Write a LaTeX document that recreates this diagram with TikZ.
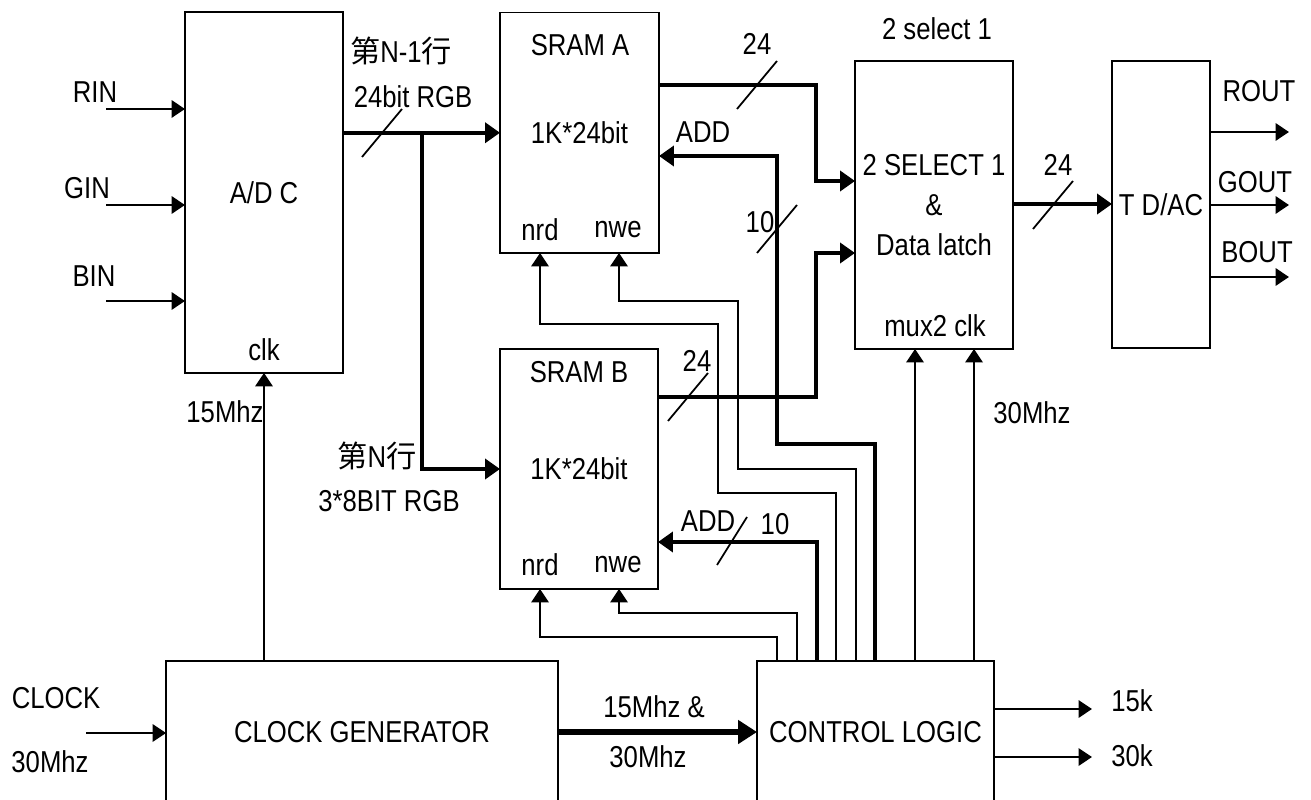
\documentclass[tikz,border=0pt]{standalone}
\usepackage{fontspec}
\setmainfont{Liberation Sans}[FakeStretch=0.85]
\newfontfamily\cjk{Noto Sans CJK SC}
\usetikzlibrary{arrows.meta,positioning}
\newcommand{\lblfont}{\fontsize{17.2}{22.8}\selectfont}
\tikzset{
  blk/.style={draw, line width=1.1pt, inner sep=0pt, outer sep=0pt},
  wire/.style={line width=1.1pt},
  arr/.style={wire, -{Triangle[length=0.27cm,width=0.35cm]}},
  bus/.style={line width=2.3pt},
  busarr/.style={bus, -{Triangle[length=0.3cm,width=0.4cm]}},
  clkarr/.style={line width=3.4pt, -{Triangle[length=0.38cm,width=0.46cm]}},
  slash/.style={line width=1pt}
}

\begin{document}
\begin{tikzpicture}[x=0.02cm,y=-0.02cm,font=\lblfont,every node/.style={inner sep=0pt}]
  \useasboundingbox (0,0) rectangle (1311,800);
  \clip (0,0) rectangle (1311,800);

  % blocks
  \node[blk, minimum width=3.16cm, minimum height=7.22cm] (adc) at (264,192.5) {A/D C};
  \node[blk, minimum width=3.18cm, minimum height=4.81cm] (srama) at (579.5,132.75) {1K*24bit};
  \node[blk, minimum width=3.16cm, minimum height=4.8cm] (sramb) at (579,469) {1K*24bit};
  \node[blk, minimum width=3.16cm, minimum height=5.76cm, align=center] (mux) at (934,205) {2 SELECT 1\\\&\\Data latch};
  \node[blk, minimum width=1.96cm, minimum height=5.74cm] (dac) at (1161,204.5) {T D/AC};
  \node[blk, minimum width=7.84cm, minimum height=2.84cm] (clkgen) at (362,732) {CLOCK GENERATOR};
  \node[blk, minimum width=4.74cm, minimum height=2.84cm] (ctrl) at (875.5,732) {CONTROL LOGIC};

  % labels inside the blocks
  \node (adcclk) at (264,350) {clk};
  \node (sramaT) at (580,45) {SRAM A};
  \node (nrdA) at (540,230) {nrd};
  \node (nweA) at (618,230) {nwe};
  \node (srambT) at (579,372) {SRAM B};
  \node (nrdB) at (540,565) {nrd};
  \node (nweB) at (618,565) {nwe};
  \node (muxclk) at (935,326) {mux2 clk};
  \node (muxT) at (937,29) {2 select 1};

  % analog inputs
  \node (rinT) at (95,92) {RIN};
  \node (ginT) at (87,188) {GIN};
  \node (binT) at (94,276) {BIN};
  \coordinate (rin) at (106,109);
  \coordinate (gin) at (106,205);
  \coordinate (bin) at (106,301);
  \foreach \c in {rin,gin,bin}
    \draw[arr] (\c) -- (\c -| adc.west);

  % A/D C to the two line memories
  \node (lineA) at (401,51) {{\cjk 第}N-1{\cjk 行}};
  \node (rgbA) at (413,97) {24bit RGB};
  \node (lineB) at (377,456) {{\cjk 第}N{\cjk 行}};
  \node (rgbB) at (389,501) {3*8BIT RGB};
  \coordinate (split) at (422,133);
  \draw[busarr] (adc.east |- srama.west) -- (srama.west);
  \draw[busarr] (split) |- (sramb.west);

  % memories to 2 select 1
  \draw[busarr] (srama.east |- 0,85) -| (816,181) -- (mux.west |- 0,181);
  \draw[busarr] (sramb.east |- 0,397) -| (816,253) -- (mux.west |- 0,253);
  \draw[busarr] (mux.east |- 0,204) -- (dac.west |- 0,204);
  \node (busA) at (757,44) {24};
  \node (busB) at (697,361) {24};
  \node (busC) at (1058,165) {24};

  % addresses
  \draw[busarr] (ctrl.north -| 875,0) |- (777,444) |- (srama.east |- 0,156);
  \draw[busarr] (ctrl.north -| 817,0) |- (sramb.east |- 0,542);
  \node (addA) at (703,132) {ADD};
  \node (wA) at (760,222) {10};
  \node (addB) at (708,521) {ADD};
  \node (wB) at (775,524) {10};

  % read / write strobes
  \draw[arr] (ctrl.north -| 836,0) |- (718,493) |- (540,324) -- (srama.south -| 540,0);
  \draw[arr] (ctrl.north -| 856,0) |- (738,469) |- (619,301) -- (srama.south -| 619,0);
  \draw[arr] (ctrl.north -| 777,0) |- (540,637) -- (sramb.south -| 540,0);
  \draw[arr] (ctrl.north -| 797,0) |- (619,613) -- (sramb.south -| 619,0);
  \draw[arr] (ctrl.north -| 915,0) -- (mux.south -| 915,0);
  \draw[arr] (ctrl.north -| 974,0) -- (mux.south -| 974,0);
  \node (f30) at (1032,413) {30Mhz};

  % bus width marks
  \foreach \x/\y/\d in {382/133/20, 757/85/20, 777/229/20, 688/397/20, 1053/205/20, 732/541/15}
    \draw[slash] (\x-\d,\y+24) -- (\x+\d,\y-24);

  % outputs
  \coordinate (rout) at (1289,132);
  \coordinate (gout) at (1289,205);
  \coordinate (bout) at (1289,277);
  \foreach \c in {rout,gout,bout}
    \draw[arr] (dac.east |- \c) -- (\c);
  \node (routT) at (1259,91) {ROUT};
  \node (goutT) at (1255,182) {GOUT};
  \node (boutT) at (1257,252) {BOUT};

  % clocks
  \node (clkT) at (56,698) {CLOCK};
  \node (clkF) at (50,762) {30Mhz};
  \coordinate (clkin) at (86,733);
  \draw[arr] (clkin) -- (clkin -| clkgen.west);
  \draw[arr] (clkgen.north -| adc.south) -- (adc.south);
  \node (f15) at (225,412) {15Mhz};
  \draw[clkarr] (clkgen.east) -- (ctrl.west);
  \node (both1) at (654,707) {15Mhz \&};
  \node (both2) at (648,757) {30Mhz};
  \coordinate (k15) at (1092,709);
  \coordinate (k30) at (1092,757);
  \draw[arr] (ctrl.east |- k15) -- (k15);
  \draw[arr] (ctrl.east |- k30) -- (k30);
  \node (k15T) at (1132,701) {15k};
  \node (k30T) at (1132,756) {30k};
\end{tikzpicture}
\end{document}
